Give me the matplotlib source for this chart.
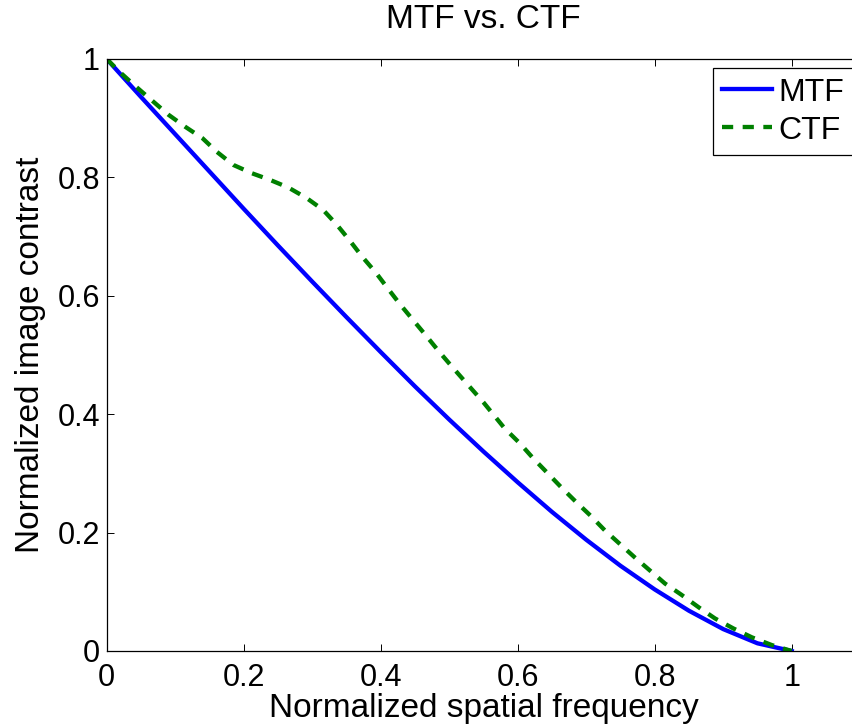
import matplotlib
matplotlib.use("Agg")
import matplotlib.pyplot as plt

# MTF (solid blue)
mtf_x = [0.0, 0.05, 0.10, 0.15, 0.20, 0.25, 0.30, 0.35, 0.40, 0.45, 0.50,
         0.55, 0.60, 0.65, 0.70, 0.75, 0.80, 0.85, 0.90, 0.95, 1.0]
mtf_y = [1.0, 0.936, 0.873, 0.810, 0.747, 0.685, 0.624, 0.564, 0.505, 0.447, 0.391,
         0.337, 0.285, 0.235, 0.188, 0.144, 0.104, 0.068, 0.037, 0.013, 0.0]

# CTF (dashed green)
ctf_x = [0.0, 0.02, 0.041, 0.066, 0.09, 0.114, 0.14, 0.161, 0.185, 0.212, 0.238,
         0.265, 0.292, 0.316, 0.336, 0.355, 0.373, 0.393, 0.41, 0.428, 0.448,
         0.466, 0.485, 0.505, 0.524, 0.55, 0.581, 0.603, 0.623, 0.644, 0.664,
         0.685, 0.706, 0.727, 0.748, 0.771, 0.793, 0.815, 0.839, 0.864, 0.888,
         0.915, 0.942, 0.971, 1.0]
ctf_y = [1.0, 0.977, 0.955, 0.930, 0.906, 0.886, 0.866, 0.843, 0.821, 0.807, 0.796,
         0.783, 0.765, 0.745, 0.720, 0.693, 0.666, 0.639, 0.613, 0.586, 0.558,
         0.533, 0.506, 0.479, 0.454, 0.420, 0.376, 0.351, 0.325, 0.300, 0.276,
         0.252, 0.229, 0.204, 0.182, 0.158, 0.136, 0.114, 0.095, 0.074, 0.055,
         0.038, 0.023, 0.010, 0.0]

ticks = [0, 0.2, 0.4, 0.6, 0.8, 1.0]
tick_labels = ["0", "0.2", "0.4", "0.6", "0.8", "1"]

plt.rcParams['font.family'] = ['Liberation Sans', 'DejaVu Sans']

W, H = 852, 727
fig = plt.figure(figsize=(W / 100, H / 100), dpi=100)
# axes run past the right edge of the picture (xlim goes to 1.1)
ax = fig.add_axes([106.7 / W, 76 / H, 753.5 / W, 592 / H])

ax.plot(mtf_x, mtf_y, color=(0, 0, 1), lw=3.1, label='MTF')
ax.plot(ctf_x, ctf_y, color=(0, 0.5, 0), lw=3.1, dashes=(2.6, 2.2), label='CTF')

ax.set_xlim(0, 1.1)
ax.set_ylim(0, 1)
ax.set_xticks(ticks)
ax.set_xticklabels(tick_labels)
ax.set_yticks(ticks)
ax.set_yticklabels(tick_labels)
ax.tick_params(direction='in', length=5, width=0.7, labelsize=22,
               top=True, right=True)
ax.tick_params(axis='x', pad=9)
ax.tick_params(axis='y', pad=5)
for s in ax.spines.values():
    s.set_linewidth(0.9)

ax.set_title('MTF vs. CTF', fontsize=24, pad=22)
ax.set_xlabel('Normalized spatial frequency', fontsize=24, labelpad=0)
ax.set_ylabel('Normalized image contrast', fontsize=24, labelpad=8)

leg = ax.legend(loc='upper left', bbox_to_anchor=(712.7 / W, 1 - 68 / H),
                bbox_transform=fig.transFigure, borderaxespad=0,
                fontsize=23, handlelength=1.55, handletextpad=0.2,
                borderpad=0.3, labelspacing=0.25, fancybox=False,
                framealpha=1, edgecolor='black')
leg.get_frame().set_linewidth(0.9)

fig.savefig('out.png', dpi=100)
